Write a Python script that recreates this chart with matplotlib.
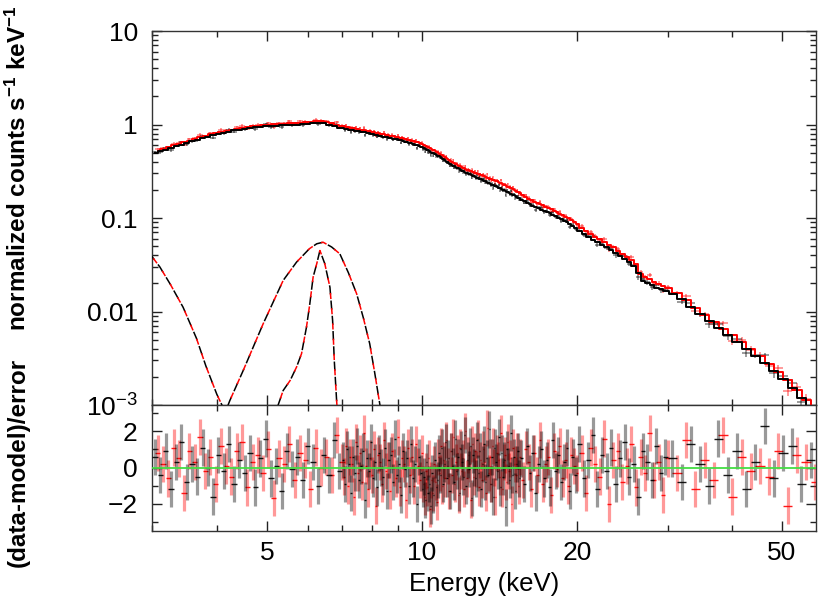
import numpy as np
import matplotlib
matplotlib.use("Agg")
import matplotlib.pyplot as plt
from matplotlib.ticker import FixedLocator, NullFormatter

plt.rcParams['font.family'] = ['Liberation Sans', 'DejaVu Sans']
plt.rcParams['mathtext.fontset'] = 'custom'
plt.rcParams['mathtext.rm'] = 'Liberation Sans'
plt.rcParams['mathtext.it'] = 'Liberation Sans:italic'
plt.rcParams['mathtext.bf'] = 'Liberation Sans:bold'
plt.rcParams['mathtext.default'] = 'regular'

# model curves (keV, normalized counts s^-1 keV^-1)
model_E = [3.0, 3.2, 3.45, 3.7, 4.0, 4.3, 4.65, 5.0, 5.4, 5.8, 6.2, 6.4, 6.55,
           6.75, 7.2, 7.8, 8.3, 9.0, 9.9, 10.7, 11.5, 12.2, 13.0, 14.2, 15.0,
           16.4, 17.5, 19.1, 21.2, 23.2, 26.0, 26.6, 28.5, 31.2, 35.7, 40.2,
           44.7, 49.8, 53.3, 56.6, 58.5]
model_red = [0.50, 0.57, 0.645, 0.73, 0.82, 0.89, 0.95, 0.99, 1.02, 1.05, 1.08,
             1.10, 1.06, 1.01, 0.93, 0.86, 0.80, 0.73, 0.64, 0.51, 0.39, 0.33,
             0.29, 0.237, 0.205, 0.152, 0.13, 0.102, 0.068, 0.051, 0.033,
             0.025, 0.020, 0.0161, 0.0087, 0.0055, 0.00354, 0.00215, 0.00147,
             0.00102, 0.0008]
model_black = [0.48, 0.545, 0.62, 0.70, 0.79, 0.86, 0.92, 0.955, 0.98, 1.00,
               1.03, 1.05, 1.01, 0.96, 0.88, 0.82, 0.75, 0.69, 0.59, 0.47,
               0.36, 0.305, 0.26, 0.207, 0.178, 0.135, 0.116, 0.091, 0.061,
               0.046, 0.030, 0.022, 0.018, 0.0149, 0.0082, 0.0051, 0.00325,
               0.0020, 0.00138, 0.00096, 0.00076]

# additive components (dashed)
soft_E = [2.95, 3.1, 3.25, 3.44, 3.65, 3.81, 4.0, 4.15, 4.3]
soft_v = [0.043, 0.030, 0.0195, 0.0111, 0.0052, 0.0026, 0.0013, 0.00085, 0.0005]
broad_E = [4.1, 4.24, 4.5, 4.92, 5.38, 5.71, 6.05, 6.25, 6.43, 6.68, 6.93,
           7.2, 7.47, 7.7, 7.92, 8.1, 8.29, 8.45]
broad_v = [0.0007, 0.00112, 0.00234, 0.0074, 0.0215, 0.0337, 0.047, 0.053,
           0.0551, 0.049, 0.0414, 0.026, 0.0155, 0.0085, 0.00452, 0.0022,
           0.001, 0.0005]
narrow_E = [5.1, 5.26, 5.38, 5.55, 5.71, 5.84, 5.97, 6.06, 6.15, 6.25, 6.34,
            6.48, 6.63, 6.71, 6.76, 6.83, 6.87]
narrow_v = [0.0007, 0.001, 0.00143, 0.00183, 0.00254, 0.00354, 0.0068,
            0.0121, 0.0233, 0.0324, 0.0449, 0.0324, 0.0182, 0.008, 0.003,
            0.00113, 0.0007]

# fractional 1-sigma error of the spectral points
err_E = [3, 6, 10, 15, 20, 30, 40, 50, 58]
err_frac = [0.04, 0.035, 0.035, 0.04, 0.05, 0.06, 0.08, 0.10, 0.13]

# binning bands (keV)
band_edges = [3.0, 7.0, 10.0, 15.5, 20.0, 30.0, 58.0]

# (data-model)/error per band
resid_black = [
    [0.6, -0.4, 0.9, -1.2, 0.3, 1.4, -0.8, 0.2, -0.5, 1.1, 0.0, -1.6, 0.7, -0.2,
     1.3, -0.9, 0.4, -0.3, 0.8, -1.1, 0.5, 1.6, -0.6, 0.1, -1.3, 0.9, -0.1, 0.6,
     -0.7, 1.2, 0.3, -1.0, 0.7, -0.4, 1.5, -0.2],
    [0.4, -0.9, 1.0, 0.2, -1.4, 0.6, -0.3, 1.2, -0.7, 0.1, 0.9, -1.8, 0.5, -0.2,
     1.4, -0.6, 0.3, -1.1, 0.8, 0.0, -0.5, 1.1, -1.3, 0.4, 0.7, -0.8, 1.6, -0.4,
     0.2, -1.5, 0.9, -0.1, 0.5, -1.0, 1.3, -0.6, 0.2, -2.0, 0.6, -0.3],
    [-1.2, -0.5, -1.8, 0.3, -1.4, -0.9, -2.1, -0.3, -1.5, 0.4, -1.1, -0.7, 0.8,
     -0.4, 1.1, -0.9, 0.2, 1.4, -0.6, 0.5, -1.3, 0.9, 0.1, -0.8, 1.6, -0.2, 0.6,
     -1.4, 1.0, 0.3, -0.5, 1.8, -1.0, 0.4, -0.1, 1.2, -1.7, 0.7, 0.0, -0.6, 1.5,
     -0.3, 0.9, -1.2, 0.2, 1.3, -0.8, 0.5, -0.4, 2.1, -0.9, 0.6, -1.6, 1.1, 0.3,
     -0.2, 1.7, -1.1, 0.8, -0.5, 0.4, -2.2, 1.0, 0.1, -0.7, 1.9, -0.4, 0.6, -1.3,
     0.2, 0.9, -0.6],
    [0.5, -0.9, 1.2, -0.3, 0.8, -1.4, 0.2, 1.0, -0.6, 0.4, -1.1, 1.5, -0.2, 0.7,
     -0.8, 0.3, 1.1, -1.3, 0.6, -0.4],
    [1.3, -0.6, 0.4, 1.8, -1.2, 0.7, -0.2, 1.1, -0.9, 0.5, 1.4, -0.5, 0.2, -1.6,
     0.9, 0.3, -0.7, 1.2, -0.3, 0.6],
    [0.5, -0.8, 1.3, 0.2, -1.0, 1.6, -0.4, 0.9, -1.2, 0.3, 2.3, -0.6, 0.8, 1.2,
     -0.9, 0.4],
]
resid_red = [
    [0.8, 0.2, -0.6, 1.1, 0.5, -1.4, 0.9, 0.3, 1.7, -0.2, 0.6, -0.9, 1.2, 0.1,
     -0.5, 0.9, 1.4, -1.1, 0.3, 0.7, -0.3, 1.0, -1.7, 0.5, 0.2, 1.3, -0.7, 0.8,
     0.4, -1.2, 1.1, 0.0, 0.6, -0.4, 1.8, 0.3],
    [-0.5, 1.2, -1.0, 0.6, 0.2, -1.6, 1.4, -0.3, 0.8, -0.8, 1.9, 0.1, -1.2, 0.5,
     -0.4, 1.0, -2.1, 0.7, 0.3, -0.9, 1.5, -0.2, 0.4, -1.3, 0.9, 0.0, -0.6, 1.7,
     -1.1, 0.5, 0.2, -1.8, 1.1, -0.4, 0.6, -1.0, 1.3, 0.1, -0.7, 0.8],
    [-0.9, -1.6, -0.2, -1.1, 0.5, -2.3, -0.7, -1.4, 0.2, -0.8, -1.9, 0.6, -0.3,
     1.2, -1.0, 0.4, -0.6, 1.5, 0.1, -1.3, 0.9, -0.4, 1.7, -0.9, 0.3, 0.8, -1.5,
     1.1, -0.2, 0.5, -1.2, 2.0, -0.6, 0.7, 0.2, -1.8, 1.3, -0.5, 0.9, -0.1, 1.6,
     -1.1, 0.4, -0.7, 1.0, 0.3, -1.4, 2.2, -0.3, 0.6, -0.9, 1.2, 0.0, -1.6, 0.8,
     0.4, -0.5, 1.9, -1.2, 0.3, 0.7, -0.8, 1.4, -0.2, 0.5, -2.0, 1.1, 0.2, -0.4,
     0.9, -1.0, 0.6],
    [-0.7, 1.0, 0.3, -1.2, 0.8, -0.4, 1.5, -0.9, 0.2, 0.6, -1.5, 0.9, -0.1, 1.2,
     -0.6, 0.4, -1.0, 0.7, 0.1, -0.3],
    [0.8, -1.4, 1.1, 0.2, -0.5, 1.6, -2.0, 0.4, 0.9, -0.8, 0.1, 1.3, -1.1, 0.6,
     -0.3, 1.9, -0.7, 0.3, -1.5, 0.5],
    [-0.3, 1.5, -1.2, 0.4, -0.7, 1.8, -1.6, 0.6, -0.2, 0.1, -0.5, 0.9, -2.1, 0.7,
     0.3, -0.8],
]


def bins(resid_bands, shift):
    lo_all, hi_all, res = [], [], []
    for (lo, hi), r in zip(zip(band_edges[:-1], band_edges[1:]), resid_bands):
        n = len(r)
        step = (hi / lo) ** (1.0 / n)
        edges = lo * step ** (np.arange(n + 1) + shift)
        lo_all.append(edges[:-1])
        hi_all.append(edges[1:])
        res.extend(r)
    lo_all = np.concatenate(lo_all)
    hi_all = np.concatenate(hi_all)
    return lo_all, hi_all, np.sqrt(lo_all * hi_all), np.array(res)


def logi(x, xp, fp):
    return 10 ** np.interp(np.log10(x), np.log10(xp), np.log10(fp))


fig = plt.figure(figsize=(8.3, 6.01), dpi=100)
ax1 = fig.add_axes([0.1828, 0.3261, 0.8004, 0.6223])
ax2 = fig.add_axes([0.1828, 0.1165, 0.8004, 0.2096], sharex=ax1)

for resid, col, shift, z in [(resid_black, 'black', 0.0, 3), (resid_red, 'red', 0.5, 2)]:
    lo, hi, E, r = bins(resid, shift)
    model = logi(E, model_E, model_black if col == 'black' else model_red)
    ferr = np.interp(E, err_E, err_frac)
    data = model * (1 + r * ferr)
    ax1.errorbar(E, data, xerr=[E - lo, hi - E], yerr=model * ferr, fmt='none',
                 ecolor=col, elinewidth=1.1, alpha=0.5, zorder=z)
    ax1.plot(E, model, color=col, lw=1.4, drawstyle='steps-mid', zorder=z + 3)
    ax2.errorbar(E, r, yerr=1, fmt='none', ecolor=col, elinewidth=2.3,
                 alpha=0.4, zorder=z)
    ax2.errorbar(E, r, xerr=[E - lo, hi - E], fmt='none', ecolor=col,
                 elinewidth=1.0, alpha=0.9, zorder=z)

for cE, cv in [(soft_E, soft_v), (broad_E, broad_v), (narrow_E, narrow_v)]:
    ax1.plot(cE, cv, color='black', lw=1.1, ls=(0, (6, 4)), zorder=6)
    ax1.plot(cE, cv, color='red', lw=1.1, ls=(5, (4, 6)), zorder=7)

ax2.axhline(0, color='#44dd44', lw=1.3, zorder=8)

for ax in (ax1, ax2):
    ax.set_xscale('log')
    ax.set_xlim(2.99, 58.2)
    ax.xaxis.set_major_locator(FixedLocator([5, 10, 20, 50]))
    ax.xaxis.set_minor_locator(FixedLocator([3, 4, 6, 7, 8, 9, 30, 40]))
    ax.xaxis.set_minor_formatter(NullFormatter())
    ax.tick_params(which='both', direction='in', top=True, right=True,
                   labelsize=19, width=1.0, color='#222222')
    ax.tick_params(which='major', length=7)
    ax.tick_params(which='minor', length=4)
    ax.tick_params(axis='y', pad=10)
    ax.tick_params(axis='x', pad=7)
    for s in ax.spines.values():
        s.set_color('#333333')
        s.set_linewidth(1.0)

ax1.set_yscale('log')
ax1.set_ylim(1e-3, 10)
ax1.set_yticks([1e-3, 1e-2, 0.1, 1, 10])
ax1.set_yticklabels(['$10^{-3}$', '0.01', '0.1', '1', '10'])
ax1.yaxis.set_minor_locator(FixedLocator(
    [m * 10.0 ** k for k in range(-3, 1) for m in range(2, 10)]))
ax1.yaxis.set_minor_formatter(NullFormatter())
ax1.tick_params(axis='x', labelbottom=False)

ax2.set_ylim(-3.5, 3.45)
ax2.set_yticks([-2, 0, 2])
ax2.yaxis.set_minor_locator(FixedLocator([-3, -1, 1, 3]))
ax2.set_xticklabels(['5', '10', '20', '50'])
ax2.set_xlabel('Energy (keV)', fontsize=18.5, labelpad=5)

fig.text(0.0217, 0.2305, '(data-model)/error', rotation=90, ha='center',
         va='center', fontsize=17.5, fontweight='bold')
fig.text(0.0217, 0.7196, r'normalized counts s$^{-1}$ keV$^{-1}$', rotation=90,
         ha='center', va='center', fontsize=17.5, fontweight='bold')

fig.savefig('out.png', dpi=100)
